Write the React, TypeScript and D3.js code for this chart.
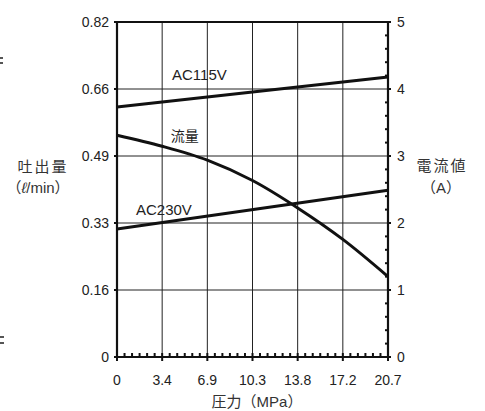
import React from 'react'
import * as d3 from 'd3'

// 圧力 (MPa) の目盛り
const pressureTicks = [0, 3.45, 6.9, 10.35, 13.8, 17.25, 20.7]
const pressureLabels = ['0', '3.4', '6.9', '10.3', '13.8', '17.2', '20.7']

// 吐出量 (ℓ/min) 左軸
const flowTicks = [0, 0.164, 0.328, 0.492, 0.656, 0.82]
const flowLabels = ['0', '0.16', '0.33', '0.49', '0.66', '0.82']

// 電流値 (A) 右軸
const currentTicks = [0, 1, 2, 3, 4, 5]

// 流量カーブ
const flowPressure = [0, 3.45, 6.9, 10.35, 13.8, 17.25, 20.7]
const flowValues = [0.543, 0.516, 0.482, 0.432, 0.365, 0.288, 0.197]

// 電流 (直線)
const linePressure = [0, 20.7]
const ac115Values = [3.73, 4.18]
const ac230Values = [1.91, 2.49]

// ラベル [pressure, current]
const labelNames = ['AC115V', '流量', 'AC230V']
const labelAt = [[4.2, 4.13], [4.1, 3.22], [1.45, 2.12]]

const W = 485, H = 411
const left = 117, right = 388, top = 22, bottom = 357
const font = '"Liberation Sans", Arial, Helvetica, sans-serif'
const cjk = '"Noto Sans CJK JP", "Noto Sans", sans-serif'

const App = () => {
    const x = d3.scaleLinear().domain([0, 20.7]).range([left, right])
    const yL = d3.scaleLinear().domain([0, 0.82]).range([bottom, top])
    const yR = d3.scaleLinear().domain([0, 5]).range([bottom, top])

    const flowLine = d3.line<number>()
        .x((d, i) => x(flowPressure[i]))
        .y(d => yL(d))
        .curve(d3.curveCatmullRom)
    const ampLine = d3.line<number>()
        .x((d, i) => x(linePressure[i]))
        .y(d => yR(d))

    // 下軸の小目盛り (6分割)
    const xMinor: number[] = []
    for (let i = 0; i < pressureTicks.length - 1; i++) {
        const a = pressureTicks[i], b = pressureTicks[i + 1]
        for (let k = 1; k < 6; k++) xMinor.push(a + (b - a) * k / 6)
    }
    // 右軸の小目盛り (0.2A)
    const rMinor: number[] = []
    for (let i = 0; i < currentTicks.length - 1; i++) {
        for (let k = 1; k < 5; k++) rMinor.push(currentTicks[i] + k * 0.2)
    }

    return (
        <svg width={W} height={H} style={{ position: 'absolute', left: 0, top: 0, background: '#fff' }}>
            {/* 端の切れ端 */}
            <g fill="#555">
                <rect x={0} y={57} width={3} height={2} />
                <rect x={0} y={62} width={3} height={2} />
                <rect x={0} y={336} width={4} height={2} />
                <rect x={0} y={342} width={4} height={2} />
            </g>

            {/* grid */}
            <g stroke="#222" strokeWidth={1}>
                {pressureTicks.map((p, i) => (
                    <line key={'gx' + i} x1={x(p)} x2={x(p)} y1={top} y2={bottom} />
                ))}
                {flowTicks.map((f, i) => (
                    <line key={'gy' + i} x1={left} x2={right} y1={yL(f)} y2={yL(f)} />
                ))}
            </g>

            {/* frame */}
            <g stroke="#111" strokeWidth={2.2} fill="none">
                <line x1={left} x2={left} y1={top - 1} y2={bottom + 1} />
                <line x1={right} x2={right} y1={top - 1} y2={bottom + 1} />
                <line x1={left} x2={right} y1={top} y2={top} />
                <line x1={left} x2={right} y1={bottom} y2={bottom} />
            </g>

            {/* ticks */}
            <g stroke="#111" strokeWidth={2}>
                {flowTicks.map((f, i) => (
                    <line key={'lt' + i} x1={left - 3} x2={left} y1={yL(f)} y2={yL(f)} />
                ))}
                {currentTicks.map((c, i) => (
                    <line key={'rt' + i} x1={right} x2={right + 3} y1={yR(c)} y2={yR(c)} />
                ))}
                {rMinor.map((c, i) => (
                    <line key={'rm' + i} x1={right - 3} x2={right} y1={yR(c)} y2={yR(c)} />
                ))}
                {pressureTicks.map((p, i) => (
                    <line key={'bt' + i} x1={x(p)} x2={x(p)} y1={bottom - 4} y2={bottom + 4} />
                ))}
                {xMinor.map((p, i) => (
                    <line key={'bm' + i} x1={x(p)} x2={x(p)} y1={bottom - 4} y2={bottom} />
                ))}
            </g>

            {/* data lines */}
            <g fill="none" stroke="#111" strokeWidth={3}>
                <path d={ampLine(ac115Values) ?? ''} />
                <path d={ampLine(ac230Values) ?? ''} />
                <path d={flowLine(flowValues) ?? ''} />
            </g>

            {/* tick labels */}
            <g fontFamily={font} fontSize={14} fill="#222">
                {flowTicks.map((f, i) => (
                    <text key={'ll' + i} x={left - 8} y={yL(f)} dy="0.35em" textAnchor="end">{flowLabels[i]}</text>
                ))}
                {currentTicks.map((c, i) => (
                    <text key={'rl' + i} x={right + 9} y={yR(c)} dy="0.35em">{c}</text>
                ))}
                {pressureTicks.map((p, i) => (
                    <text key={'xl' + i} x={x(p)} y={bottom + 28} textAnchor="middle">{pressureLabels[i]}</text>
                ))}
            </g>

            {/* series labels */}
            <g fill="#222" fontSize={15}>
                {labelNames.map((n, i) => (
                    <text key={'sl' + i} x={x(labelAt[i][0])} y={yR(labelAt[i][1])}
                        fontFamily={i === 1 ? cjk : font} fontSize={i === 1 ? 14 : 15}>{n}</text>
                ))}
            </g>

            {/* axis titles */}
            <g fill="#333" fontFamily={cjk} fontSize={15} textAnchor="middle">
                <text x={43} y={172} letterSpacing={2}>吐出量</text>
                <text x={38} y={193}>（<tspan fontFamily={font} fontStyle="italic">ℓ</tspan><tspan fontFamily={font}>/min</tspan>）</text>
                <text x={442} y={171} letterSpacing={2}>電流値</text>
                <text x={441} y={193}>（<tspan fontFamily={font}>A</tspan>）</text>
                <text x={257} y={407}>圧力（<tspan fontFamily={font}>MPa</tspan>）</text>
            </g>
        </svg>
    )
}

export default App
